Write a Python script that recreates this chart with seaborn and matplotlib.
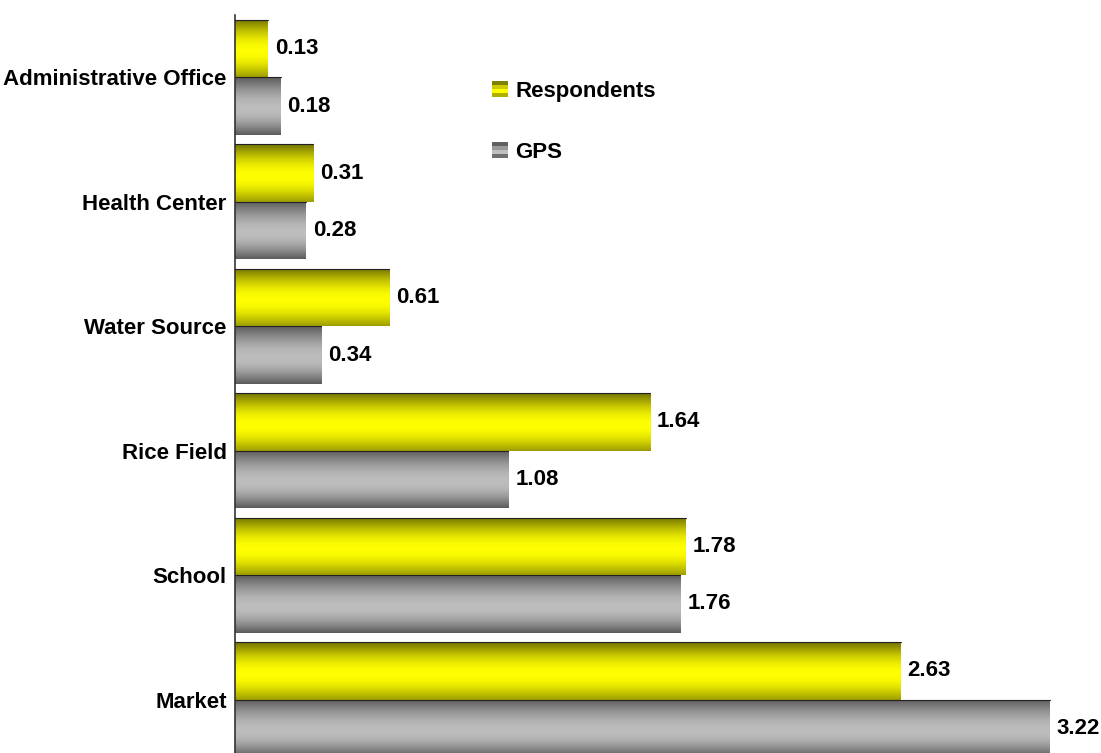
import numpy as np
import pandas as pd
import matplotlib
matplotlib.use("Agg")
import matplotlib.pyplot as plt
import seaborn as sns
from matplotlib.legend_handler import HandlerBase
from matplotlib.patches import Rectangle, Patch

places = ["Administrative Office", "Health Center", "Water Source", "Rice Field", "School", "Market"]
respondents = [0.13, 0.31, 0.61, 1.64, 1.78, 2.63]
gps = [0.18, 0.28, 0.34, 1.08, 1.76, 3.22]
series = ["Respondents", "GPS"]

df = pd.DataFrame({
    "Place": places * 2,
    "Distance": respondents + gps,
    "Source": [series[0]] * len(places) + [series[1]] * len(places),
})

sns.set_style("white")
plt.rcParams["font.family"] = ["Liberation Sans", "DejaVu Sans"]
plt.rcParams["text.color"] = "black"
plt.rcParams["ytick.color"] = "black"
plt.rcParams["ytick.labelcolor"] = "black"

fig = plt.figure(figsize=(11.01, 7.53), dpi=100)
ax = fig.add_axes([235 / 1101, 0.0, 1 - 235 / 1101, (753 - 15) / 753])

sns.barplot(data=df, y="Place", x="Distance", hue="Source", orient="h",
            width=0.924, palette=["#ffff00", "#b8b8b8"], ax=ax,
            saturation=1, legend=False, linewidth=0)

def grad(dark_top, light, dark_bot, n=64):
    t = np.linspace(0, 1, n)
    out = np.zeros((n, 1, 3))
    for i, tt in enumerate(t):
        if tt < 0.55:
            f = np.sin(tt / 0.55 * np.pi / 2)
            c = np.array(dark_top) + (np.array(light) - np.array(dark_top)) * f
        else:
            f = np.sin((1 - tt) / 0.45 * np.pi / 2)
            c = np.array(dark_bot) + (np.array(light) - np.array(dark_bot)) * f
        out[i, 0] = c
    return out

g_yellow = grad((0.45, 0.45, 0.0), (1.0, 1.0, 0.0), (0.62, 0.62, 0.0))
g_gray = grad((0.36, 0.36, 0.36), (0.74, 0.74, 0.74), (0.36, 0.36, 0.36))

xmax = (1101 - 235) / 253.1
ymin, ymax = 5.43, -0.502

bars = [p for p in ax.patches if p.get_width() > 0]
for p in bars:
    x0, y0 = p.get_x(), p.get_y()
    w, h = p.get_width(), p.get_height()
    fc = p.get_facecolor()
    g = g_yellow if fc[2] < 0.5 else g_gray
    im = ax.imshow(g, extent=(x0, x0 + w, y0 + h, y0), origin="upper",
                   aspect="auto", zorder=2, interpolation="bilinear")
    im.set_clip_path(p)
    ax.plot([x0, x0 + w], [y0, y0], color="#222222", lw=0.8, zorder=3)

for c in ax.containers:
    ax.bar_label(c, fmt="%.2f", padding=5, fontsize=16, fontweight="bold",
                 color="black")

ax.set_xlim(0, xmax)
ax.set_ylim(ymin, ymax)
ax.set_xlabel("")
ax.set_ylabel("")
ax.set_xticks([])
for s in ["top", "right", "bottom"]:
    ax.spines[s].set_visible(False)
ax.spines["left"].set_color("#333333")
ax.spines["left"].set_linewidth(1.2)
ax.tick_params(axis="y", length=0, pad=6)
for lab in ax.get_yticklabels():
    lab.set_fontweight("bold")
    lab.set_fontsize(16)
    lab.set_color("black")


class StripeHandler(HandlerBase):
    def __init__(self, cols):
        super().__init__()
        self.cols = cols

    def create_artists(self, legend, orig_handle, xdescent, ydescent, width,
                       height, fontsize, trans):
        arts = []
        n = len(self.cols)
        hh = height / n
        for i, c in enumerate(self.cols):
            r = Rectangle((-xdescent, -ydescent + height - (i + 1) * hh), width, hh,
                          facecolor=c, edgecolor="none", transform=trans)
            arts.append(r)
        return arts

h1 = Patch(facecolor="#ffff00")
h2 = Patch(facecolor="#b8b8b8")
leg = ax.legend([h1, h2], series, loc="upper left",
                bbox_to_anchor=((472 - 235) / 866, (753 - 61) / 738),
                frameon=False, handlelength=0.7, handleheight=0.7,
                handletextpad=0.35, labelspacing=1.8,
                prop={"weight": "bold", "size": 16},
                handler_map={h1: StripeHandler(["#808000", "#cccc00", "#ffff00", "#b0b000"]),
                             h2: StripeHandler(["#606060", "#999999", "#c0c0c0", "#707070"])})
for t in leg.get_texts():
    t.set_color("black")

fig.savefig("out.png", dpi=100)
